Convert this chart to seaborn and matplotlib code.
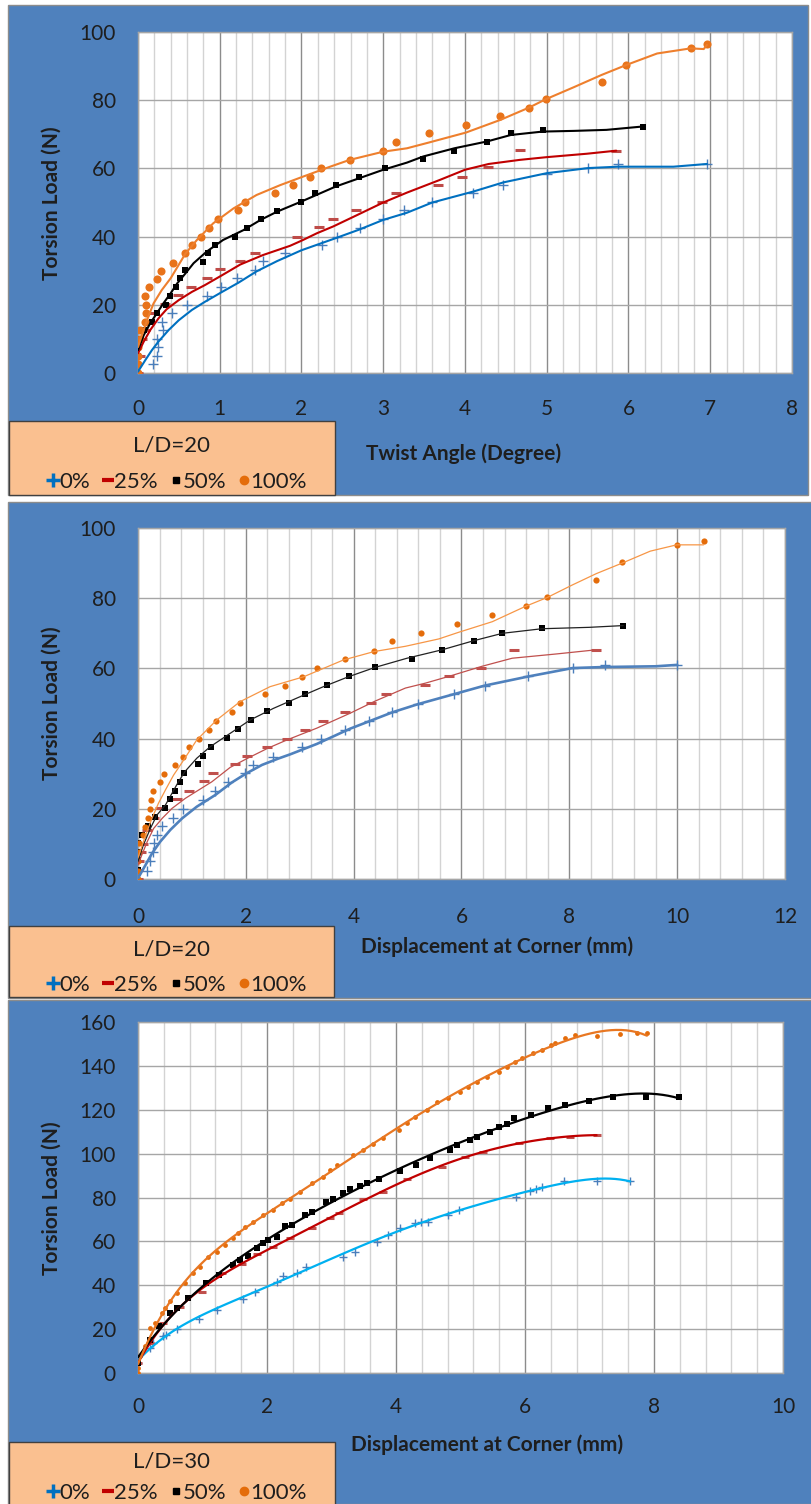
import seaborn as sns
import matplotlib.pyplot as plt
from matplotlib.patches import Rectangle
from matplotlib.lines import Line2D
from matplotlib.ticker import MultipleLocator

# ---- panel 1: L/D=20, load vs twist angle (measured points) ----
p1_x0 = [0, 0.18, 0.23, 0.25, 0.23, 0.30, 0.29, 0.42, 0.60, 0.84, 1.02, 1.21, 1.43, 1.53, 1.80,
         2.25, 2.44, 2.71, 3.00, 3.25, 3.60, 4.10, 4.46, 5.00, 5.51, 5.87, 6.96]
p1_y0 = [0, 2.6, 5.0, 7.5, 10.0, 12.7, 15.1, 17.6, 20.0, 22.7, 25.2, 27.8, 30.3, 32.7, 35.2,
         37.6, 40.0, 42.5, 45.1, 47.7, 50.1, 52.9, 55.2, 58.3, 60.0, 61.2, 61.3]
p1_x25 = [0, 0.02, 0.05, 0.09, 0.20, 0.33, 0.49, 0.65, 0.84, 1.00, 1.25, 1.43, 1.94, 2.21, 2.39,
          2.67, 2.98, 3.15, 3.67, 3.96, 4.28, 4.67, 5.85]
p1_y25 = [0, 5.0, 10.0, 12.5, 17.5, 20.2, 22.8, 25.2, 27.8, 30.5, 32.8, 35.3, 40.0, 42.7, 45.2,
          47.7, 50.2, 52.7, 55.2, 57.6, 60.4, 65.4, 65.2]
p1_x50 = [0, 0.01, 0.04, 0.07, 0.17, 0.23, 0.34, 0.39, 0.47, 0.51, 0.57, 0.79, 0.86, 0.94, 1.19,
          1.33, 1.50, 1.70, 2.00, 2.17, 2.42, 2.70, 3.02, 3.49, 3.87, 4.27, 4.56, 4.95, 6.18]
p1_y50 = [5.0, 7.5, 10.0, 12.7, 15.0, 17.5, 20.0, 22.5, 25.3, 27.8, 30.2, 32.6, 35.1, 37.5, 40.0,
          42.6, 45.2, 47.6, 50.2, 52.7, 55.1, 57.6, 60.0, 62.7, 65.2, 67.7, 70.3, 71.3, 72.2]
p1_x100 = [0, 0, 0, 0, 0.02, 0.02, 0.09, 0.10, 0.10, 0.09, 0.14, 0.23, 0.28, 0.43, 0.58, 0.66,
           0.77, 0.87, 0.98, 1.22, 1.31, 1.68, 1.89, 2.10, 2.24, 2.59, 3.00, 3.16, 3.56, 4.01,
           4.43, 4.78, 4.99, 5.67, 5.97, 6.76, 6.96]
p1_y100 = [0, 2.6, 5.0, 7.5, 10.0, 12.5, 15.0, 17.5, 20.0, 22.6, 25.2, 27.6, 30.0, 32.4, 35.2, 37.6,
           40.0, 42.5, 45.1, 47.7, 50.2, 52.7, 55.1, 57.6, 60.0, 62.5, 65.1, 67.6, 70.3, 72.8,
           75.4, 77.8, 80.3, 85.2, 90.3, 95.4, 96.4]

# panel 1 trend curves
c1_x0 = [0, 0.09, 0.17, 0.25, 0.375, 0.5, 0.66, 0.82, 1.03, 1.23, 1.45, 1.70, 2.0, 2.39, 2.7,
         3.0, 3.29, 3.6, 4.1, 4.47, 5.0, 5.51, 5.87, 6.55, 6.96]
c1_y0 = [0.4, 3.8, 6.7, 9.2, 12.6, 15.5, 18.5, 20.9, 23.8, 26.5, 29.8, 32.8, 36.0, 39.3, 42.0,
         44.9, 47.0, 50.0, 53.2, 55.9, 58.6, 60.1, 60.5, 60.5, 61.3]
c1_x25 = [0, 0.07, 0.15, 0.25, 0.35, 0.5, 0.66, 0.82, 1.03, 1.25, 1.53, 1.86, 2.0, 2.19, 2.39,
          2.67, 3.0, 3.29, 3.69, 4.0, 4.29, 4.67, 5.0, 5.49, 5.85]
c1_y25 = [5.8, 9.2, 12.6, 16.0, 18.7, 21.4, 23.8, 25.8, 28.7, 31.8, 34.6, 37.3, 38.8, 41.0, 43.0,
          46.2, 50.0, 52.9, 56.6, 59.6, 61.3, 62.5, 63.3, 64.3, 65.2]
c1_x50 = [0, 0.07, 0.15, 0.23, 0.31, 0.4, 0.48, 0.58, 0.68, 0.84, 1.04, 1.29, 1.5, 1.7, 2.0,
          2.42, 3.0, 3.29, 3.49, 3.87, 4.27, 4.56, 4.95, 5.33, 5.73, 6.18]
c1_y50 = [6.7, 11.1, 14.6, 17.5, 20.4, 23.4, 26.3, 29.2, 32.2, 35.6, 39.0, 41.9, 44.9, 47.3, 50.3,
          54.7, 59.6, 61.7, 63.5, 65.9, 67.9, 69.8, 70.8, 71.0, 71.3, 72.3]
c1_x100 = [0, 0.11, 0.19, 0.29, 0.4, 0.46, 0.58, 0.72, 0.92, 1.17, 1.45, 1.74, 2.02, 2.35, 2.59,
           3.0, 3.29, 3.56, 4.01, 4.43, 4.78, 4.99, 5.33, 5.67, 5.97, 6.35, 6.76, 6.92, 6.96]
c1_y100 = [7.6, 15.5, 20.4, 24.3, 27.8, 30.2, 35.0, 39.0, 43.9, 48.3, 52.2, 55.1, 57.6, 60.5, 62.5,
           64.9, 65.9, 67.6, 70.5, 74.2, 77.8, 80.3, 83.8, 87.4, 90.3, 93.7, 95.2, 95.0, 96.2]

# ---- panel 2: L/D=20, load vs corner displacement (measured points) ----
p2_x0 = [0, 0.16, 0.22, 0.27, 0.30, 0.35, 0.44, 0.64, 0.84, 1.20, 1.43, 1.67, 1.99, 2.14, 2.51,
         3.05, 3.39, 3.83, 4.29, 4.72, 5.19, 5.87, 6.43, 7.24, 8.06, 8.66, 10.0]
p2_y0 = [0, 2.4, 5.1, 7.6, 10.2, 12.5, 15.1, 17.5, 20.0, 22.5, 25.1, 27.6, 30.1, 32.5, 34.9,
         37.5, 39.8, 42.5, 45.1, 47.5, 49.8, 52.7, 55.1, 57.7, 60.1, 61.0, 61.0]
p2_x25 = [0, 0, 0.01, 0.05, 0.10, 0.16, 0.30, 0.41, 0.72, 0.94, 1.23, 1.40, 1.79, 2.02, 2.40,
          2.77, 3.10, 3.44, 3.83, 4.32, 4.60, 5.33, 5.76, 6.37, 6.97, 8.50]
p2_y25 = [0, 2.6, 5.1, 7.6, 10.1, 14.0, 17.5, 20.2, 22.7, 25.1, 27.8, 30.3, 32.7, 35.1, 37.5,
          39.9, 42.5, 45.1, 47.5, 50.1, 52.7, 55.3, 57.7, 60.1, 65.3, 65.3]
p2_x50 = [0, 0, 0.01, 0, 0.07, 0.18, 0.32, 0.50, 0.60, 0.69, 0.77, 0.86, 1.11, 1.20, 1.35, 1.65,
          1.85, 2.10, 2.40, 2.80, 3.10, 3.50, 3.92, 4.40, 5.08, 5.64, 6.23, 6.76, 7.49, 9.00]
p2_y50 = [2.5, 5.4, 7.8, 10.2, 12.5, 15.1, 17.6, 20.2, 22.7, 25.1, 27.5, 30.2, 32.7, 35.1, 37.7,
          40.3, 42.7, 45.2, 47.9, 50.1, 52.7, 55.2, 57.7, 60.3, 62.7, 65.3, 67.9, 70.2, 71.5, 72.2]
p2_x100 = [0, 0, 0, 0.01, 0.02, 0.09, 0.13, 0.19, 0.23, 0.25, 0.27, 0.40, 0.48, 0.68, 0.84, 0.95,
           1.13, 1.31, 1.45, 1.75, 1.90, 2.35, 2.72, 3.04, 3.32, 3.83, 4.38, 4.72, 5.25, 5.92,
           6.57, 7.19, 7.59, 8.49, 8.98, 9.99, 10.49]
p2_y100 = [0, 2.4, 5.0, 7.6, 10.2, 12.5, 14.9, 17.5, 20.0, 22.5, 25.1, 27.6, 30.0, 32.6, 34.9, 37.5,
           40.0, 42.5, 45.1, 47.5, 50.1, 52.7, 55.0, 57.6, 60.2, 62.7, 65.0, 67.7, 70.2, 72.6,
           75.1, 77.7, 80.2, 85.1, 90.2, 95.2, 96.2]

# panel 2 trend curves
c2_x0 = [0, 0.14, 0.26, 0.41, 0.6, 0.82, 1.09, 1.43, 1.74, 2.0, 2.3, 2.6, 2.82, 3.32, 3.93,
         4.72, 5.19, 5.87, 6.43, 7.24, 8.06, 8.67, 9.6, 10.0]
c2_y0 = [0.2, 4.0, 7.3, 10.6, 14.0, 17.3, 20.6, 23.9, 27.5, 30.0, 32.5, 34.3, 35.5, 38.5, 42.8,
         47.5, 49.8, 52.7, 55.1, 57.7, 60.1, 60.4, 60.6, 61.0]
c2_x25 = [0, 0.07, 0.17, 0.29, 0.45, 0.63, 0.88, 1.13, 1.37, 1.71, 2.02, 2.4, 2.76, 3.32, 3.93,
          4.4, 4.96, 5.33, 5.76, 6.38, 6.94, 7.75, 8.5]
c2_y25 = [4.0, 6.8, 10.6, 14.4, 17.3, 20.1, 23.0, 25.4, 27.7, 31.8, 34.3, 37.2, 39.6, 43.0, 47.2,
          50.7, 54.4, 55.8, 57.7, 60.6, 62.9, 64.1, 65.3]
c2_x50 = [0, 0.1, 0.23, 0.35, 0.51, 0.63, 0.75, 0.87, 1.09, 1.34, 1.71, 2.08, 2.51, 2.94, 3.44,
          3.9, 4.4, 4.99, 5.64, 6.23, 6.76, 7.49, 8.37, 9.0]
c2_y50 = [5.0, 9.7, 14.4, 18.2, 21.1, 24.4, 27.7, 30.6, 34.4, 37.7, 41.5, 45.3, 48.6, 51.5, 54.8,
          57.6, 60.3, 62.9, 65.3, 67.9, 70.0, 71.3, 71.7, 72.2]
c2_x100 = [0, 0.14, 0.26, 0.38, 0.51, 0.66, 0.8, 1.09, 1.46, 1.89, 2.45, 3.07, 3.81, 4.38, 4.96,
           5.58, 5.95, 6.57, 7.19, 7.59, 8.06, 8.5, 8.98, 9.5, 9.99, 10.49]
c2_y100 = [6.0, 12.5, 17.3, 21.6, 25.4, 29.6, 32.8, 39.6, 45.3, 50.5, 54.8, 57.6, 62.4, 64.8, 66.3,
           68.4, 70.3, 73.3, 77.7, 80.2, 83.8, 87.0, 90.0, 93.4, 95.2, 95.2]

# ---- panel 3: L/D=30, load vs corner displacement (measured points) ----
p3_x0 = [0, 0.19, 0.24, 0.39, 0.44, 0.60, 0.94, 1.22, 1.63, 1.81, 2.15, 2.25, 2.46, 2.61, 3.18,
         3.36, 3.70, 3.88, 4.06, 4.29, 4.39, 4.49, 4.80, 4.97, 5.86, 6.07, 6.17, 6.27, 6.60,
         7.11, 7.63]
p3_y0 = [4.5, 11.4, 13.6, 16.7, 17.4, 20.2, 24.5, 28.8, 33.6, 36.7, 41.7, 44.2, 45.5, 48.5, 53.0,
         55.3, 59.8, 62.9, 65.9, 68.6, 69.0, 69.0, 72.1, 74.1, 80.4, 83.0, 83.9, 85.0, 87.3,
         87.6, 87.6]
p3_x25 = [0, 0.19, 0.39, 0.65, 0.99, 1.30, 1.61, 1.84, 2.10, 2.36, 2.69, 2.98, 3.11, 3.49, 3.80,
          4.17, 4.71, 5.07, 5.35, 5.90, 6.39, 6.70, 7.11]
p3_y25 = [4.5, 13.6, 22.7, 30.3, 36.7, 45.5, 49.7, 54.2, 57.6, 61.4, 66.0, 70.5, 73.0, 79.1, 82.6,
          88.3, 94.1, 98.6, 100.9, 104.7, 107.0, 107.7, 108.5]
p3_x50 = [0, 0.19, 0.32, 0.50, 0.60, 0.78, 1.06, 1.25, 1.48, 1.58, 1.71, 1.84, 1.94, 2.02, 2.15,
          2.28, 2.38, 2.59, 2.69, 2.92, 3.03, 3.18, 3.29, 3.44, 3.55, 3.73, 4.06, 4.31, 4.52,
          4.83, 4.95, 5.15, 5.25, 5.46, 5.59, 5.72, 5.83, 6.10, 6.36, 6.62, 7.00, 7.37, 7.88, 8.39]
p3_y50 = [4.5, 15.2, 21.2, 27.3, 29.5, 34.1, 40.9, 44.7, 49.2, 51.5, 53.5, 56.8, 59.1, 60.6, 62.1,
          67.0, 67.4, 72.0, 73.5, 78.0, 79.5, 82.1, 84.1, 85.2, 86.7, 88.6, 92.0, 94.8, 97.8,
          101.6, 103.9, 106.2, 107.7, 110.0, 112.0, 113.5, 116.1, 117.6, 120.6, 122.2, 124.0,
          125.7, 126.0, 126.0]
p3_x100 = [0, 0, 0.03, 0.11, 0.19, 0.26, 0.37, 0.42, 0.50, 0.60, 0.73, 0.86, 0.96, 1.09, 1.22,
           1.35, 1.48, 1.55, 1.66, 1.79, 1.94, 2.10, 2.23, 2.36, 2.51, 2.69, 2.87, 2.98, 3.08,
           3.34, 3.49, 3.65, 3.80, 4.04, 4.17, 4.29, 4.48, 4.63, 4.81, 4.99, 5.12, 5.25, 5.41,
           5.59, 5.72, 5.85, 5.95, 6.13, 6.26, 6.41, 6.47, 6.62, 6.78, 7.11, 7.47, 7.73, 7.89]
p3_y100 = [0, 2.3, 7.6, 12.1, 20.5, 22.7, 27.3, 29.5, 32.6, 36.4, 40.9, 45.5, 48.5, 53.0, 55.3,
           58.3, 61.4, 63.6, 66.7, 68.9, 72.0, 74.5, 77.3, 79.5, 82.6, 86.4, 89.4, 92.4, 94.7,
           99.2, 101.5, 104.5, 107.3, 110.8, 113.8, 116.8, 119.9, 123.7, 125.2, 128.2, 130.5,
           132.8, 135.1, 137.4, 139.6, 141.9, 143.4, 145.7, 147.2, 149.5, 150.3, 152.6, 154.1,
           153.6, 154.5, 155.1, 155.1]

series_names = ['0%', '25%', '50%', '100%']

sns.set_theme(style='white')
plt.rcParams['font.family'] = ['Lato', 'DejaVu Sans']

W, H = 812, 1504
fig = plt.figure(figsize=(W / 100, H / 100), dpi=100)
fig.patch.set_facecolor('white')


def fbox(x0, y0, x1, y1):
    return [x0 / W, 1 - y1 / H, (x1 - x0) / W, (y1 - y0) / H]


def frect(x0, y0, x1, y1, **kw):
    fig.patches.append(Rectangle((x0 / W, 1 - y1 / H), (x1 - x0) / W, (y1 - y0) / H,
                                 transform=fig.transFigure, figure=fig, **kw))


panels = [
    dict(bg=(8, 5, 808, 495), ax=(138, 32, 792, 373), xlim=8, xmaj=1, xmin=0.2, ylim=100,
         xpad=19, xlabel='Twist Angle (Degree)', xl=(464, 454), yl=(52, 203),
         leg=(9, 421, 335, 495), title='L/D=20', ty=446, ly=482,
         data=[(p1_x0, p1_y0), (p1_x25, p1_y25), (p1_x50, p1_y50), (p1_x100, p1_y100)],
         curves=[(c1_x0, c1_y0), (c1_x25, c1_y25), (c1_x50, c1_y50), (c1_x100, c1_y100)],
         lc=['#0070C0', '#C00000', 'black', '#EE7F2D'], lw=[1.5, 1.5, 1.5, 1.5],
         mc=['#4A7EBB', '#BE4B48', 'black', '#E8731A'], ms=[55, 45, 20, 34]),
    dict(bg=(8, 502, 812, 998), ax=(138, 528, 785, 879), xlim=12, xmaj=2, xmin=0.4, ylim=100,
         xpad=20, xlabel='Displacement at Corner (mm)', xl=(497, 947), yl=(52, 703),
         leg=(9, 926, 334, 997), title='L/D=20', ty=950, ly=985,
         data=[(p2_x0, p2_y0), (p2_x25, p2_y25), (p2_x50, p2_y50), (p2_x100, p2_y100)],
         curves=[(c2_x0, c2_y0), (c2_x25, c2_y25), (c2_x50, c2_y50), (c2_x100, c2_y100)],
         lc=['#4F81BD', '#C0504D', '#222222', '#F79646'], lw=[1.9, 0.9, 0.9, 0.9],
         mc=['#4A7EBB', '#C0504D', 'black', '#E46C0A'], ms=[55, 45, 22, 20]),
    dict(bg=(8, 1000, 812, 1504), ax=(138, 1022, 783, 1373), xlim=10, xmaj=2, xmin=0.4, ylim=160,
         xpad=17, xlabel='Displacement at Corner (mm)', xl=(487, 1445), yl=(52, 1198),
         leg=(9, 1442, 335, 1510), title='L/D=30', ty=1462, ly=1493,
         data=[(p3_x0, p3_y0), (p3_x25, p3_y25), (p3_x50, p3_y50), (p3_x100, p3_y100)],
         curves=None,  # polynomial trendlines fitted by seaborn
         lc=['#00B0F0', '#C00000', 'black', '#E87722'], lw=[1.6, 1.6, 1.6, 1.6],
         mc=['#4A7EBB', '#C0504D', 'black', '#E46C0A'], ms=[40, 30, 14, 12]),
]

markers = ['+', '_', 's', 'o']
text_col = '#1E1E1E'

for p in panels:
    frect(*p['bg'], facecolor='#4F81BD', edgecolor='#8C8C8C', lw=1, zorder=-2)
    ax = fig.add_axes(fbox(*p['ax']))
    ax.set_zorder(2)
    ax.set_facecolor('white')
    ax.set_axisbelow(True)

    for i, (xs, ys) in enumerate(p['data']):
        if p['curves'] is None:
            sns.regplot(x=xs, y=ys, order=6, ci=None, scatter=False, truncate=True, ax=ax,
                        line_kws=dict(color=p['lc'][i], lw=p['lw'][i], zorder=4))
        else:
            cx, cy = p['curves'][i]
            sns.lineplot(x=cx, y=cy, estimator=None, sort=False, color=p['lc'][i],
                         lw=p['lw'][i], ax=ax, zorder=4)
        if markers[i] in ('+', '_'):
            sns.scatterplot(x=xs, y=ys, marker=markers[i], s=p['ms'][i], color=p['mc'][i],
                            linewidth=1.0 if markers[i] == '+' else 2.2, ax=ax, zorder=3)
        else:
            sns.scatterplot(x=xs, y=ys, marker=markers[i], s=p['ms'][i], color=p['mc'][i],
                            edgecolor=p['mc'][i], linewidth=0, ax=ax, zorder=3)

    ax.set_xlim(0, p['xlim'])
    ax.set_ylim(0, p['ylim'])
    ax.xaxis.set_major_locator(MultipleLocator(p['xmaj']))
    ax.xaxis.set_minor_locator(MultipleLocator(p['xmin']))
    ax.yaxis.set_major_locator(MultipleLocator(20))
    ax.grid(which='minor', axis='x', color='#D3D3D3', lw=1)
    ax.grid(which='major', axis='x', color='#8C8C8C', lw=1)
    ax.grid(which='major', axis='y', color='#A6A6A6', lw=1)
    ax.tick_params(which='both', length=0)
    ax.tick_params(axis='y', pad=16, labelsize=15, labelcolor=text_col)
    ax.tick_params(axis='x', pad=p['xpad'], labelsize=15, labelcolor=text_col)
    ax.set_xlabel('')
    ax.set_ylabel('')
    for s in ax.spines.values():
        s.set_color('#A6A6A6')
        s.set_linewidth(1)

    fig.text(p['xl'][0] / W, 1 - p['xl'][1] / H, p['xlabel'], ha='center', va='center',
             fontsize=15, fontweight='bold', color=text_col)
    fig.text(p['yl'][0] / W, 1 - p['yl'][1] / H, 'Torsion Load (N)', ha='center', va='center',
             rotation=90, fontsize=15, fontweight='bold', color=text_col)

    # legend box
    lx0, ly0, lx1, ly1 = p['leg']
    frect(lx0, ly0, lx1, ly1, facecolor='#FAC090', edgecolor='#404040', lw=1, zorder=1)
    fig.text(172 / W, 1 - p['ty'] / H, p['title'], ha='center', va='center',
             fontsize=16, color=text_col)
    handles = [
        Line2D([], [], ls='none', marker='+', color='#0070C0', markersize=10, mew=2.5),
        Line2D([], [], ls='none', marker='_', color='#C00000', markersize=8, mew=3),
        Line2D([], [], ls='none', marker='s', color='black', markersize=4),
        Line2D([], [], ls='none', marker='o', color='#E46C0A', markersize=6),
    ]
    fig.legend(handles, series_names, loc='center', bbox_to_anchor=(177 / W, 1 - p['ly'] / H),
               ncol=4, frameon=False, fontsize=16, handlelength=0.5, handletextpad=0.05,
               columnspacing=0.55, borderpad=0, labelcolor=text_col)

fig.savefig('out.png', dpi=100, facecolor='white')
